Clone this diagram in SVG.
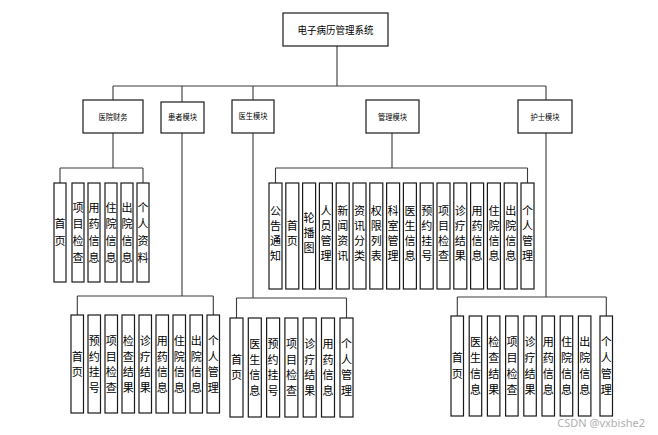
<svg xmlns="http://www.w3.org/2000/svg" width="658" height="435" viewBox="0 0 658 435">
<style>
.b{fill:#fff;stroke:#1a1a1a;stroke-width:1.2}
.t{font-family:"Noto Sans CJK SC","Liberation Sans",sans-serif;fill:#000;text-anchor:middle}
.h{font-size:10px}
.m{font-size:8px}
.l{font-size:11px}
.c{fill:none;stroke:#3a3a3a;stroke-width:1.1}
</style>
<rect width="658" height="435" fill="#fff"/>
<g id="connectors" class="c">
<path d="M337 46V86M113 86H546M113 86V100M182 86V102M253 86V100M546 86V100"/>
<path d="M113 133V168M60 168H143M60 168V183M143 168V183"/>
<path d="M392 133V168M275.5 168H527.5M275.5 168V183M527.5 168V183"/>
<path d="M182 133V296M77.3 296H213.3M77.3 296V315M213.3 296V315"/>
<path d="M253 133V298M236.5 298H346.5M236.5 298V318M346.5 298V318"/>
<path d="M546 133V297M457.3 297H606.3M457.3 297V316M606.3 297V316"/>
</g>
<g id="root"><rect class="b" x="283" y="13" width="105" height="33"/><text class="t h" x="335.5" y="34" textLength="76" lengthAdjust="spacingAndGlyphs">电子病历管理系统</text></g>
<g id="n-finance"><rect class="b" x="83" y="100" width="60" height="33"/><text class="t m" x="113" y="120" textLength="29" lengthAdjust="spacingAndGlyphs">医院财务</text></g>
<g id="n-patient"><rect class="b" x="161" y="102" width="43" height="31"/><text class="t m" x="182.5" y="120" textLength="29" lengthAdjust="spacingAndGlyphs">患者模块</text></g>
<g id="n-doctor"><rect class="b" x="232" y="100" width="42" height="33"/><text class="t m" x="253" y="119" textLength="29" lengthAdjust="spacingAndGlyphs">医生模块</text></g>
<g id="n-admin"><rect class="b" x="366" y="100" width="53" height="33"/><text class="t m" x="392.5" y="120" textLength="29" lengthAdjust="spacingAndGlyphs">管理模块</text></g>
<g id="n-nurse"><rect class="b" x="518" y="100" width="54" height="33"/><text class="t m" x="545" y="120" textLength="29" lengthAdjust="spacingAndGlyphs">护士模块</text></g>

<g id="f1"><rect class="b" x="54" y="183" width="12" height="99"/><text class="t l"><tspan x="60" y="228.2">首</tspan><tspan x="60" y="244.9">页</tspan></text></g>
<g id="f2"><rect class="b" x="72" y="183" width="12" height="99"/><text class="t l"><tspan x="78" y="211.5">项</tspan><tspan x="78" y="228.2">目</tspan><tspan x="78" y="244.9">检</tspan><tspan x="78" y="261.6">查</tspan></text></g>
<g id="f3"><rect class="b" x="88" y="183" width="12" height="99"/><text class="t l"><tspan x="94" y="211.5">用</tspan><tspan x="94" y="228.2">药</tspan><tspan x="94" y="244.9">信</tspan><tspan x="94" y="261.6">息</tspan></text></g>
<g id="f4"><rect class="b" x="105" y="183" width="12" height="99"/><text class="t l"><tspan x="111" y="211.5">住</tspan><tspan x="111" y="228.2">院</tspan><tspan x="111" y="244.9">信</tspan><tspan x="111" y="261.6">息</tspan></text></g>
<g id="f5"><rect class="b" x="121" y="183" width="12" height="99"/><text class="t l"><tspan x="127" y="211.5">出</tspan><tspan x="127" y="228.2">院</tspan><tspan x="127" y="244.9">信</tspan><tspan x="127" y="261.6">息</tspan></text></g>
<g id="f6"><rect class="b" x="137" y="183" width="12" height="99"/><text class="t l"><tspan x="143" y="211.5">个</tspan><tspan x="143" y="228.2">人</tspan><tspan x="143" y="244.9">资</tspan><tspan x="143" y="261.6">料</tspan></text></g>

<g id="a1"><rect class="b" x="269" y="183" width="13" height="106"/><text class="t l"><tspan x="275.5" y="214.5">公</tspan><tspan x="275.5" y="229.5">告</tspan><tspan x="275.5" y="244.5">通</tspan><tspan x="275.5" y="259.5">知</tspan></text></g>
<g id="a2"><rect class="b" x="285.8" y="183" width="13" height="106"/><text class="t l"><tspan x="292.3" y="229.5">首</tspan><tspan x="292.3" y="244.5">页</tspan></text></g>
<g id="a3"><rect class="b" x="302.6" y="183" width="13" height="106"/><text class="t l"><tspan x="309.1" y="222">轮</tspan><tspan x="309.1" y="237">播</tspan><tspan x="309.1" y="252">图</tspan></text></g>
<g id="a4"><rect class="b" x="319.4" y="183" width="13" height="106"/><text class="t l"><tspan x="325.9" y="214.5">人</tspan><tspan x="325.9" y="229.5">员</tspan><tspan x="325.9" y="244.5">管</tspan><tspan x="325.9" y="259.5">理</tspan></text></g>
<g id="a5"><rect class="b" x="336.2" y="183" width="13" height="106"/><text class="t l"><tspan x="342.7" y="214.5">新</tspan><tspan x="342.7" y="229.5">闻</tspan><tspan x="342.7" y="244.5">资</tspan><tspan x="342.7" y="259.5">讯</tspan></text></g>
<g id="a6"><rect class="b" x="353" y="183" width="13" height="106"/><text class="t l"><tspan x="359.5" y="214.5">资</tspan><tspan x="359.5" y="229.5">讯</tspan><tspan x="359.5" y="244.5">分</tspan><tspan x="359.5" y="259.5">类</tspan></text></g>
<g id="a7"><rect class="b" x="369.8" y="183" width="13" height="106"/><text class="t l"><tspan x="376.3" y="214.5">权</tspan><tspan x="376.3" y="229.5">限</tspan><tspan x="376.3" y="244.5">列</tspan><tspan x="376.3" y="259.5">表</tspan></text></g>
<g id="a8"><rect class="b" x="386.6" y="183" width="13" height="106"/><text class="t l"><tspan x="393.1" y="214.5">科</tspan><tspan x="393.1" y="229.5">室</tspan><tspan x="393.1" y="244.5">管</tspan><tspan x="393.1" y="259.5">理</tspan></text></g>
<g id="a9"><rect class="b" x="403.4" y="183" width="13" height="106"/><text class="t l"><tspan x="409.9" y="214.5">医</tspan><tspan x="409.9" y="229.5">生</tspan><tspan x="409.9" y="244.5">信</tspan><tspan x="409.9" y="259.5">息</tspan></text></g>
<g id="a10"><rect class="b" x="420.2" y="183" width="13" height="106"/><text class="t l"><tspan x="426.7" y="214.5">预</tspan><tspan x="426.7" y="229.5">约</tspan><tspan x="426.7" y="244.5">挂</tspan><tspan x="426.7" y="259.5">号</tspan></text></g>
<g id="a11"><rect class="b" x="437" y="183" width="13" height="106"/><text class="t l"><tspan x="443.5" y="214.5">项</tspan><tspan x="443.5" y="229.5">目</tspan><tspan x="443.5" y="244.5">检</tspan><tspan x="443.5" y="259.5">查</tspan></text></g>
<g id="a12"><rect class="b" x="453.8" y="183" width="13" height="106"/><text class="t l"><tspan x="460.3" y="214.5">诊</tspan><tspan x="460.3" y="229.5">疗</tspan><tspan x="460.3" y="244.5">结</tspan><tspan x="460.3" y="259.5">果</tspan></text></g>
<g id="a13"><rect class="b" x="470.6" y="183" width="13" height="106"/><text class="t l"><tspan x="477.1" y="214.5">用</tspan><tspan x="477.1" y="229.5">药</tspan><tspan x="477.1" y="244.5">信</tspan><tspan x="477.1" y="259.5">息</tspan></text></g>
<g id="a14"><rect class="b" x="487.4" y="183" width="13" height="106"/><text class="t l"><tspan x="493.9" y="214.5">住</tspan><tspan x="493.9" y="229.5">院</tspan><tspan x="493.9" y="244.5">信</tspan><tspan x="493.9" y="259.5">息</tspan></text></g>
<g id="a15"><rect class="b" x="504.2" y="183" width="13" height="106"/><text class="t l"><tspan x="510.7" y="214.5">出</tspan><tspan x="510.7" y="229.5">院</tspan><tspan x="510.7" y="244.5">信</tspan><tspan x="510.7" y="259.5">息</tspan></text></g>
<g id="a16"><rect class="b" x="521" y="183" width="13" height="106"/><text class="t l"><tspan x="527.5" y="214.5">个</tspan><tspan x="527.5" y="229.5">人</tspan><tspan x="527.5" y="244.5">管</tspan><tspan x="527.5" y="259.5">理</tspan></text></g>

<g id="p1"><rect class="b" x="71" y="315" width="12.5" height="98"/><text class="t l"><tspan x="77.3" y="360.8">首</tspan><tspan x="77.3" y="376.3">页</tspan></text></g>
<g id="p2"><rect class="b" x="88" y="315" width="12.5" height="98"/><text class="t l"><tspan x="94.3" y="345.3">预</tspan><tspan x="94.3" y="360.8">约</tspan><tspan x="94.3" y="376.3">挂</tspan><tspan x="94.3" y="391.8">号</tspan></text></g>
<g id="p3"><rect class="b" x="105" y="315" width="12.5" height="98"/><text class="t l"><tspan x="111.3" y="345.3">项</tspan><tspan x="111.3" y="360.8">目</tspan><tspan x="111.3" y="376.3">检</tspan><tspan x="111.3" y="391.8">查</tspan></text></g>
<g id="p4"><rect class="b" x="122" y="315" width="12.5" height="98"/><text class="t l"><tspan x="128.3" y="345.3">检</tspan><tspan x="128.3" y="360.8">查</tspan><tspan x="128.3" y="376.3">结</tspan><tspan x="128.3" y="391.8">果</tspan></text></g>
<g id="p5"><rect class="b" x="139" y="315" width="12.5" height="98"/><text class="t l"><tspan x="145.3" y="345.3">诊</tspan><tspan x="145.3" y="360.8">疗</tspan><tspan x="145.3" y="376.3">结</tspan><tspan x="145.3" y="391.8">果</tspan></text></g>
<g id="p6"><rect class="b" x="156" y="315" width="12.5" height="98"/><text class="t l"><tspan x="162.3" y="345.3">用</tspan><tspan x="162.3" y="360.8">药</tspan><tspan x="162.3" y="376.3">信</tspan><tspan x="162.3" y="391.8">息</tspan></text></g>
<g id="p7"><rect class="b" x="173" y="315" width="12.5" height="98"/><text class="t l"><tspan x="179.3" y="345.3">住</tspan><tspan x="179.3" y="360.8">院</tspan><tspan x="179.3" y="376.3">信</tspan><tspan x="179.3" y="391.8">息</tspan></text></g>
<g id="p8"><rect class="b" x="190" y="315" width="12.5" height="98"/><text class="t l"><tspan x="196.3" y="345.3">出</tspan><tspan x="196.3" y="360.8">院</tspan><tspan x="196.3" y="376.3">信</tspan><tspan x="196.3" y="391.8">息</tspan></text></g>
<g id="p9"><rect class="b" x="207" y="315" width="12.5" height="98"/><text class="t l"><tspan x="213.3" y="345.3">个</tspan><tspan x="213.3" y="360.8">人</tspan><tspan x="213.3" y="376.3">管</tspan><tspan x="213.3" y="391.8">理</tspan></text></g>

<g id="d1"><rect class="b" x="230" y="318" width="13" height="99"/><text class="t l"><tspan x="236.5" y="363.8">首</tspan><tspan x="236.5" y="379.3">页</tspan></text></g>
<g id="d2"><rect class="b" x="248.3" y="318" width="13" height="99"/><text class="t l"><tspan x="254.8" y="348.3">医</tspan><tspan x="254.8" y="363.8">生</tspan><tspan x="254.8" y="379.3">信</tspan><tspan x="254.8" y="394.8">息</tspan></text></g>
<g id="d3"><rect class="b" x="266.6" y="318" width="13" height="99"/><text class="t l"><tspan x="273.1" y="348.3">预</tspan><tspan x="273.1" y="363.8">约</tspan><tspan x="273.1" y="379.3">挂</tspan><tspan x="273.1" y="394.8">号</tspan></text></g>
<g id="d4"><rect class="b" x="284.9" y="318" width="13" height="99"/><text class="t l"><tspan x="291.4" y="348.3">项</tspan><tspan x="291.4" y="363.8">目</tspan><tspan x="291.4" y="379.3">检</tspan><tspan x="291.4" y="394.8">查</tspan></text></g>
<g id="d5"><rect class="b" x="303.2" y="318" width="13" height="99"/><text class="t l"><tspan x="309.7" y="348.3">诊</tspan><tspan x="309.7" y="363.8">疗</tspan><tspan x="309.7" y="379.3">结</tspan><tspan x="309.7" y="394.8">果</tspan></text></g>
<g id="d6"><rect class="b" x="321.5" y="318" width="13" height="99"/><text class="t l"><tspan x="328" y="348.3">用</tspan><tspan x="328" y="363.8">药</tspan><tspan x="328" y="379.3">信</tspan><tspan x="328" y="394.8">息</tspan></text></g>
<g id="d7"><rect class="b" x="340" y="318" width="13" height="99"/><text class="t l"><tspan x="346.5" y="348.3">个</tspan><tspan x="346.5" y="363.8">人</tspan><tspan x="346.5" y="379.3">管</tspan><tspan x="346.5" y="394.8">理</tspan></text></g>

<g id="s1"><rect class="b" x="451" y="316" width="12.5" height="100"/><text class="t l"><tspan x="457.3" y="362">首</tspan><tspan x="457.3" y="378">页</tspan></text></g>
<g id="s2"><rect class="b" x="469.2" y="316" width="12.5" height="100"/><text class="t l"><tspan x="475.5" y="346">医</tspan><tspan x="475.5" y="362">生</tspan><tspan x="475.5" y="378">信</tspan><tspan x="475.5" y="394">息</tspan></text></g>
<g id="s3"><rect class="b" x="487.4" y="316" width="12.5" height="100"/><text class="t l"><tspan x="493.7" y="346">检</tspan><tspan x="493.7" y="362">查</tspan><tspan x="493.7" y="378">结</tspan><tspan x="493.7" y="394">果</tspan></text></g>
<g id="s4"><rect class="b" x="505.6" y="316" width="12.5" height="100"/><text class="t l"><tspan x="511.9" y="346">项</tspan><tspan x="511.9" y="362">目</tspan><tspan x="511.9" y="378">检</tspan><tspan x="511.9" y="394">查</tspan></text></g>
<g id="s5"><rect class="b" x="523.8" y="316" width="12.5" height="100"/><text class="t l"><tspan x="530.1" y="346">诊</tspan><tspan x="530.1" y="362">疗</tspan><tspan x="530.1" y="378">结</tspan><tspan x="530.1" y="394">果</tspan></text></g>
<g id="s6"><rect class="b" x="542" y="316" width="12.5" height="100"/><text class="t l"><tspan x="548.3" y="346">用</tspan><tspan x="548.3" y="362">药</tspan><tspan x="548.3" y="378">信</tspan><tspan x="548.3" y="394">息</tspan></text></g>
<g id="s7"><rect class="b" x="560.2" y="316" width="12.5" height="100"/><text class="t l"><tspan x="566.5" y="346">住</tspan><tspan x="566.5" y="362">院</tspan><tspan x="566.5" y="378">信</tspan><tspan x="566.5" y="394">息</tspan></text></g>
<g id="s8"><rect class="b" x="578.4" y="316" width="12.5" height="100"/><text class="t l"><tspan x="584.7" y="346">出</tspan><tspan x="584.7" y="362">院</tspan><tspan x="584.7" y="378">信</tspan><tspan x="584.7" y="394">息</tspan></text></g>
<g id="s9"><rect class="b" x="600" y="316" width="12.5" height="100"/><text class="t l"><tspan x="606.3" y="346">个</tspan><tspan x="606.3" y="362">人</tspan><tspan x="606.3" y="378">管</tspan><tspan x="606.3" y="394">理</tspan></text></g>

<text x="645" y="427" font-family="'Noto Sans','Liberation Sans',sans-serif" font-size="11" fill="#b0b0b0" text-anchor="end">CSDN @vxbishe2</text>
</svg>
